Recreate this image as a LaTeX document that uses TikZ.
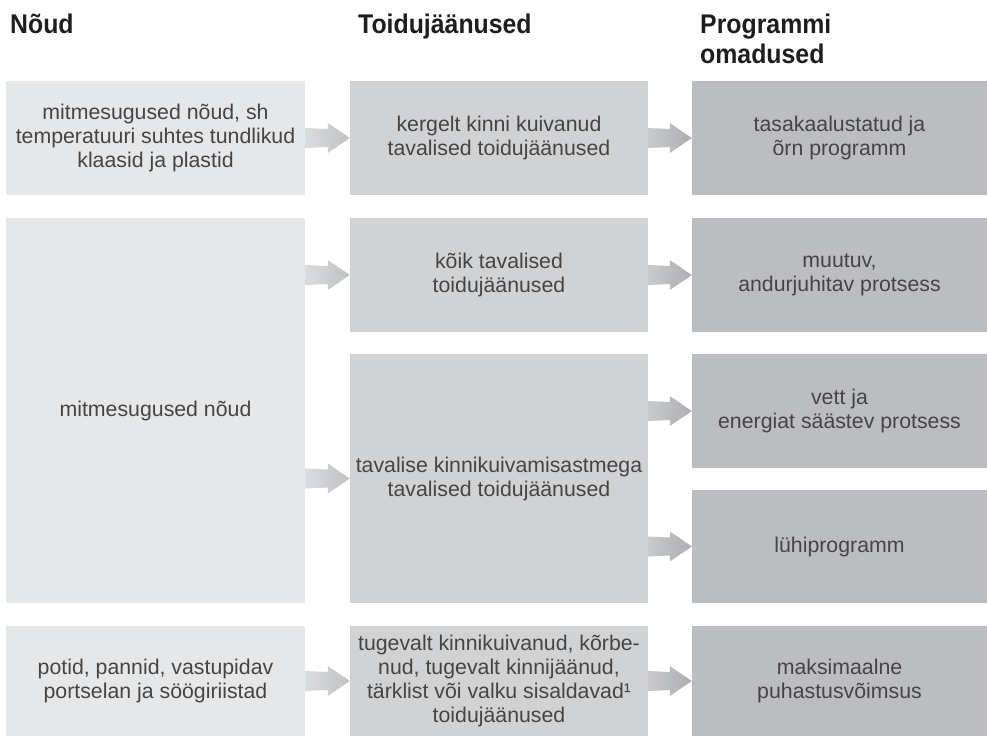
\documentclass[tikz,border=0pt]{standalone}
\usepackage{fontspec}
\setmainfont{Liberation Sans}
\newfontfamily\headfont[FakeStretch=0.92]{Liberation Sans}
\usetikzlibrary{calc}

\definecolor{noudfill}{HTML}{E6E7E8}
\definecolor{toitfill}{HTML}{D1D2D4}
\definecolor{progfill}{HTML}{BCBDC0}
\definecolor{bodytext}{HTML}{454545}
\definecolor{headtext}{HTML}{1E1E1E}

% fat shaded arrow from the right side of #1 to the middle of #2's west side
\newcommand{\fatarrow}[3]{%
    \shade[#3] let \p1 = (#1.east |- #2.west), \p2 = (#2.west) in
        (\x1, \y1+10pt) -- (\x2-22pt, \y1+9pt) -- (\x2-22pt, \y1+15pt) -- (\x2, \y1)
        -- (\x2-22pt, \y1-15pt) -- (\x2-22pt, \y1-9pt) -- (\x1, \y1-10pt) -- cycle;
}

\begin{document}
\begin{tikzpicture}[
            x=1pt, y=-1pt,
            head/.style={
                font=\headfont\bfseries\fontsize{27}{30}\selectfont,
                text=headtext,
                inner sep=0pt,
                align=left
            },
            box/.style={
                inner sep=0pt,
                align=center,
                font=\fontsize{21.3}{24}\selectfont,
                text=bodytext
            },
            noud/.style={box, fill=noudfill, minimum width=299pt},
            toit/.style={box, fill=toitfill, minimum width=298pt},
            prog/.style={box, fill=progfill, minimum width=295pt},
            lightarrow/.style={left color=noudfill!95!black, right color=toitfill!92!black},
            darkarrow/.style={left color=toitfill!96!black, right color=progfill!92!black}
        ]

            \useasboundingbox (0, 0) rectangle (987, 736);

            \node[head, anchor=base west] (hnoud) at (10, 33) {Nõud};
            \node[head, anchor=base west] (htoit) at (358, 33) {Toidujäänused};
            \node[head, anchor=base west] (hprog) at (700, 63) {Programmi\\omadused};

            \node[noud, minimum height=114pt] (n1) at (155.5, 138)
                {mitmesugused nõud, sh\\temperatuuri suhtes tundlikud\\klaasid ja plastid};
            \node[noud, minimum height=385pt] (n2) at (155.5, 410.5)
                {mitmesugused nõud};
            \node[noud, minimum height=110pt] (n3) at (155.5, 681)
                {potid, pannid, vastupidav\\portselan ja söögiriistad};

            \node[toit, minimum height=114pt] (t1) at (499, 138)
                {kergelt kinni kuivanud\\tavalised toidujäänused};
            \node[toit, minimum height=114pt] (t2) at (499, 275)
                {kõik tavalised\\toidujäänused};
            \node[toit, minimum height=249pt] (t3) at (499, 478.5)
                {tavalise kinnikuivamisastmega\\tavalised toidujäänused};
            \node[toit, minimum height=110pt] (t4) at (499, 681)
                {tugevalt kinnikuivanud, kõrbe-\\nud, tugevalt kinnijäänud,\\tärklist või valku sisaldavad¹\\toidujäänused};

            \node[prog, minimum height=114pt] (p1) at (839.5, 138)
                {tasakaalustatud ja\\õrn programm};
            \node[prog, minimum height=114pt] (p2) at (839.5, 275)
                {muutuv,\\andurjuhitav protsess};
            \node[prog, minimum height=114pt] (p3) at (839.5, 411)
                {vett ja\\energiat säästev protsess};
            \node[prog, minimum height=113pt] (p4) at (839.5, 546.5)
                {lühiprogramm};
            \node[prog, minimum height=110pt] (p5) at (839.5, 681)
                {maksimaalne\\puhastusvõimsus};

            \fatarrow{n1}{t1}{lightarrow}
            \fatarrow{n2}{t2}{lightarrow}
            \fatarrow{n2}{t3}{lightarrow}
            \fatarrow{n3}{t4}{lightarrow}

            \fatarrow{t1}{p1}{darkarrow}
            \fatarrow{t2}{p2}{darkarrow}
            \fatarrow{t3}{p3}{darkarrow}
            \fatarrow{t3}{p4}{darkarrow}
            \fatarrow{t4}{p5}{darkarrow}

        \end{tikzpicture}
\end{document}
